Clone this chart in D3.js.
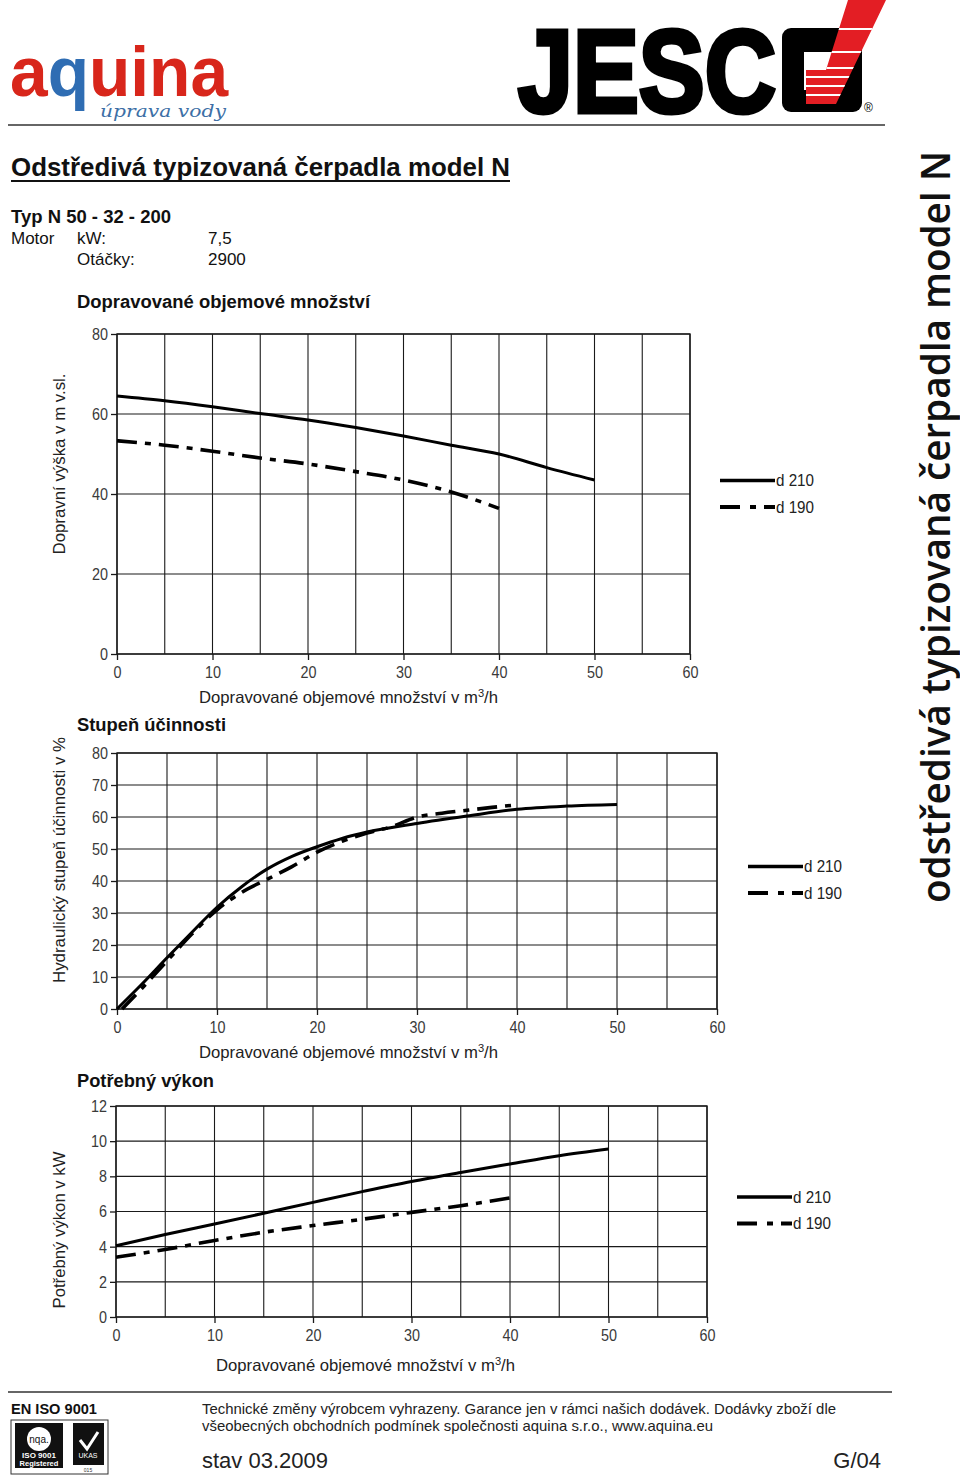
<!DOCTYPE html>
<html>
<head>
<meta charset="utf-8">
<script src="https://cdn.jsdelivr.net/npm/d3@7"></script>
<style>
  body { margin: 0; background: #fff; }
  svg { display: block; }
  .tick text { font-family: 'Liberation Sans Narrow', 'Liberation Sans', Arial, sans-serif; fill: #3a3a3a; }
</style>
</head>
<body>
<svg id="page"></svg>
<script>
// flow values (m3/h)
const flowD210 = [0, 5, 10, 15, 20, 25, 30, 35, 40, 45, 50];
const flowD190 = [0, 5, 10, 15, 20, 25, 30, 35, 40];

// head (m)
const headD210 = [64.5, 63.3, 61.8, 60.1, 58.5, 56.6, 54.5, 52.2, 50.0, 46.6, 43.5];
const headD190 = [53.3, 52.2, 50.7, 49.0, 47.5, 45.6, 43.5, 40.5, 36.4];

// efficiency (%)
const effFlowD210 = [0, 2.5, 5, 7.5, 10, 12.5, 15, 17.5, 20, 22.5, 25, 30, 35, 40, 45, 50];
const effD210 = [0, 7.8, 16, 24, 31.8, 38.3, 43.7, 47.7, 50.7, 53.3, 55.3, 58, 60.3, 62.4, 63.4, 63.9];
const effFlowD190 = [0.5, 2.5, 5, 7.5, 10, 12.5, 15, 17.5, 20, 22.5, 25, 27.5, 30, 32.5, 35, 37.5, 40];
const effD190 = [0, 6.5, 15, 23.5, 31, 36.5, 40.5, 44.5, 49, 52.4, 55, 57, 60, 61.2, 62.1, 63, 63.8];

// power (kW)
const powerD210 = [4.05, 4.69, 5.29, 5.9, 6.52, 7.13, 7.71, 8.22, 8.7, 9.17, 9.55];
const powerD190 = [3.4, 3.84, 4.35, 4.82, 5.2, 5.56, 5.95, 6.33, 6.77];

const seriesNames = ['d 210', 'd 190'];
const xTicks = [0, 10, 20, 30, 40, 50, 60];
const xGrid = d3.range(0, 61, 5);

const FONT = "'Liberation Sans', Arial, sans-serif";
const NARROW = "'Liberation Sans Narrow', 'Liberation Sans', Arial, sans-serif";
const DASH = '20,8,6,8';

const svg = d3.select('#page').attr('width', 960).attr('height', 1476);

const txt = (x, y, s, o = {}) => {
  const t = svg.append('text')
    .attr('x', x).attr('y', y)
    .attr('font-family', o.family || FONT)
    .attr('font-size', o.size || 16)
    .attr('font-weight', o.weight || 'normal')
    .attr('fill', o.fill || '#111')
    .text(s);
  if (o.len) t.attr('textLength', o.len).attr('lengthAdjust', 'spacingAndGlyphs');
  if (o.anchor) t.attr('text-anchor', o.anchor);
  return t;
};

// ---- header: logos ----
const logo = svg.append('text')
  .attr('x', 10).attr('y', 96)
  .attr('font-family', FONT).attr('font-weight', 'bold').attr('font-size', 71)
  .attr('textLength', 218).attr('lengthAdjust', 'spacingAndGlyphs');
logo.append('tspan').attr('fill', '#d8261b').text('a');
logo.append('tspan').attr('fill', '#2f6db3').text('q');
logo.append('tspan').attr('fill', '#d8261b').text('uina');
txt(100, 117, 'úprava vody', { family: "'DejaVu Serif', serif", size: 17, fill: '#3d6fa6', len: 126 })
  .attr('font-style', 'italic');

txt(518, 112, 'JESC', { weight: 'bold', size: 117, fill: '#000', len: 258 })
  .attr('stroke', '#000').attr('stroke-width', 5).attr('stroke-linejoin', 'miter');
svg.append('rect').attr('x', 782).attr('y', 28).attr('width', 80).attr('height', 84).attr('rx', 9).attr('fill', '#000');
svg.append('rect').attr('x', 804).attr('y', 52).attr('width', 36).attr('height', 38).attr('fill', '#fff');
const redShape = 'M848,0 L886,0 L836,104 L806,104 L806,70 L826,70 Z';
svg.append('clipPath').attr('id', 'redclip').append('path').attr('d', redShape);
svg.append('path').attr('d', redShape).attr('fill', '#e31e24');
svg.append('g').attr('clip-path', 'url(#redclip)')
  .selectAll('line').data([29, 52, 68, 77, 86, 95]).join('line')
  .attr('x1', 790).attr('x2', 890).attr('y1', d => d).attr('y2', d => d)
  .attr('stroke', '#fff').attr('stroke-width', 2.2);
txt(864, 112, '®', { size: 12, fill: '#000' });

svg.append('line').attr('x1', 8).attr('x2', 885).attr('y1', 125).attr('y2', 125)
  .attr('stroke', '#333').attr('stroke-width', 1.5);

// ---- title block ----
txt(11, 176, 'Odstředivá typizovaná čerpadla model N', { size: 26, weight: 'bold', len: 499 });
svg.append('line').attr('x1', 11).attr('x2', 510).attr('y1', 181).attr('y2', 181)
  .attr('stroke', '#111').attr('stroke-width', 2);
txt(11, 223, 'Typ N 50 - 32 - 200', { size: 18, weight: 'bold', len: 160 });
txt(11, 244, 'Motor', { size: 17 });
txt(77, 244, 'kW:', { size: 17 });
txt(208, 244, '7,5', { size: 17 });
txt(77, 265, 'Otáčky:', { size: 17 });
txt(208, 265, '2900', { size: 17 });

// right vertical title
svg.append('text')
  .attr('transform', 'translate(950,903) rotate(-90)')
  .attr('font-family', "'Open Sans', 'Noto Sans', sans-serif")
  .attr('font-weight', 600).attr('font-size', 40)
  .attr('textLength', 752).attr('lengthAdjust', 'spacingAndGlyphs')
  .attr('fill', '#111')
  .text('odstředivá typizovaná čerpadla model N');

// ---- charts ----
const drawChart = (c) => {
  const x = d3.scaleLinear().domain([0, 60]).range(c.xRange);
  const y = d3.scaleLinear().domain([0, c.yMax]).range(c.yRange);
  const g = svg.append('g');

  // grid
  g.append('g').selectAll('line').data(xGrid).join('line')
    .attr('x1', d => x(d)).attr('x2', d => x(d))
    .attr('y1', c.yRange[0]).attr('y2', c.yRange[1])
    .attr('stroke', '#1a1a1a').attr('stroke-width', 1.1);
  g.append('g').selectAll('line').data(c.yTicks).join('line')
    .attr('x1', c.xRange[0]).attr('x2', c.xRange[1])
    .attr('y1', d => y(d)).attr('y2', d => y(d))
    .attr('stroke', '#1a1a1a').attr('stroke-width', 1.1);
  g.append('rect')
    .attr('x', c.xRange[0]).attr('y', c.yRange[1])
    .attr('width', c.xRange[1] - c.xRange[0]).attr('height', c.yRange[0] - c.yRange[1])
    .attr('fill', 'none').attr('stroke', '#1a1a1a').attr('stroke-width', 1.4);

  // axes
  const ax = g.append('g')
    .attr('transform', `translate(0, ${c.yRange[0]})`)
    .call(d3.axisBottom(x).tickValues(xTicks).tickSize(6).tickPadding(6));
  const ay = g.append('g')
    .attr('transform', `translate(${c.xRange[0]}, 0)`)
    .call(d3.axisLeft(y).tickValues(c.yTicks).tickSize(6).tickPadding(3));
  [ax, ay].forEach(a => {
    a.select('.domain').remove();
    a.selectAll('.tick line').attr('stroke', '#1a1a1a').attr('stroke-width', 1.3);
    a.selectAll('.tick text').attr('font-size', 17)
      .attr('textLength', d => String(d).length * 8)
      .attr('lengthAdjust', 'spacingAndGlyphs');
  });

  // curves
  const line = d3.line().curve(d3.curveMonotoneX).x(d => x(d[0])).y(d => y(d[1]));
  g.append('path').datum(d3.zip(c.xa, c.ya))
    .attr('d', line).attr('fill', 'none')
    .attr('stroke', '#000').attr('stroke-width', 3);
  g.append('path').datum(d3.zip(c.xb, c.yb))
    .attr('d', line).attr('fill', 'none')
    .attr('stroke', '#000').attr('stroke-width', 3.6)
    .attr('stroke-dasharray', DASH);

  // legend
  seriesNames.forEach((n, i) => {
    const ly = c.legend[1] + i * 26.5;
    g.append('line')
      .attr('x1', c.legend[0]).attr('x2', c.legend[0] + 55)
      .attr('y1', ly).attr('y2', ly)
      .attr('stroke', '#000').attr('stroke-width', i ? 4 : 3.4)
      .attr('stroke-dasharray', i ? '20,10,6,8,20' : null);
    g.append('text')
      .attr('x', c.legend[0] + 56).attr('y', ly + 5.5)
      .attr('font-family', NARROW).attr('font-size', 16).attr('fill', '#222')
      .attr('textLength', 38).attr('lengthAdjust', 'spacingAndGlyphs')
      .text(n);
  });

  // titles
  txt(77, c.titleY, c.title, { size: 18, weight: 'bold', len: c.titleLen });
  txt(c.xTitle[0], c.xTitle[1], '', { family: NARROW, size: 16.5, fill: '#222', len: 299 })
    .call(t => {
      t.append('tspan').text('Dopravované objemové množství v m');
      t.append('tspan').attr('dy', -6).attr('font-size', 11).text('3');
      t.append('tspan').attr('dy', 6).text('/h');
    });
  svg.append('text')
    .attr('transform', `translate(65, ${c.yTitle[0]}) rotate(-90)`)
    .attr('text-anchor', 'middle')
    .attr('font-family', FONT).attr('font-size', 16).attr('fill', '#222')
    .attr('textLength', c.yTitle[2]).attr('lengthAdjust', 'spacingAndGlyphs')
    .text(c.yTitle[1]);
};

drawChart({
  xRange: [117, 690], yRange: [654, 334], yMax: 80, yTicks: [0, 20, 40, 60, 80],
  xa: flowD210, ya: headD210, xb: flowD190, yb: headD190,
  legend: [720, 480.5],
  title: 'Dopravované objemové množství', titleY: 308, titleLen: 293,
  xTitle: [199, 703], yTitle: [464, 'Dopravní výška v m v.sl.', 181]
});

drawChart({
  xRange: [117, 717], yRange: [1009, 753], yMax: 80, yTicks: d3.range(0, 81, 10),
  xa: effFlowD210, ya: effD210, xb: effFlowD190, yb: effD190,
  legend: [748, 866.5],
  title: 'Stupeň účinnosti', titleY: 731, titleLen: 149,
  xTitle: [199, 1058], yTitle: [860, 'Hydraulický stupeň účinnosti v %', 246]
});

drawChart({
  xRange: [116, 707], yRange: [1317, 1106], yMax: 12, yTicks: d3.range(0, 13, 2),
  xa: flowD210, ya: powerD210, xb: flowD190, yb: powerD190,
  legend: [737, 1197],
  title: 'Potřebný výkon', titleY: 1087, titleLen: 137,
  xTitle: [216, 1371], yTitle: [1230, 'Potřebný výkon v kW', 157]
});

// ---- footer ----
svg.append('line').attr('x1', 8).attr('x2', 892).attr('y1', 1392).attr('y2', 1392)
  .attr('stroke', '#333').attr('stroke-width', 1.5);
txt(11, 1414, 'EN ISO 9001', { size: 15, weight: 'bold', len: 86 });
svg.append('rect').attr('x', 11).attr('y', 1420).attr('width', 97).attr('height', 54)
  .attr('fill', 'none').attr('stroke', '#333').attr('stroke-width', 1);
svg.append('rect').attr('x', 15).attr('y', 1423).attr('width', 48).attr('height', 45).attr('fill', '#111');
svg.append('circle').attr('cx', 39).attr('cy', 1439).attr('r', 12).attr('fill', '#fff');
txt(39, 1443, 'nqa.', { size: 10, anchor: 'middle', fill: '#111' });
txt(39, 1458, 'ISO 9001', { size: 8, weight: 'bold', anchor: 'middle', fill: '#fff' });
txt(39, 1466, 'Registered', { size: 7.5, weight: 'bold', anchor: 'middle', fill: '#fff' });
svg.append('rect').attr('x', 73).attr('y', 1423).attr('width', 31).attr('height', 42).attr('fill', '#111');
svg.append('path').attr('d', 'M80,1440 L87,1449 L98,1432').attr('fill', 'none')
  .attr('stroke', '#fff').attr('stroke-width', 3);
txt(88, 1458, 'UKAS', { size: 7, anchor: 'middle', fill: '#fff' });
txt(88, 1472, '015', { size: 5, anchor: 'middle', fill: '#333' });

txt(202, 1414, 'Technické změny výrobcem vyhrazeny. Garance jen v rámci našich dodávek. Dodávky zboží dle',
  { family: NARROW, size: 15, fill: '#222', len: 634 });
txt(202, 1431, 'všeobecných obchodních podmínek společnosti aquina s.r.o., www.aquina.eu',
  { family: NARROW, size: 15, fill: '#222', len: 511 });
txt(202, 1468, 'stav 03.2009', { family: NARROW, size: 22, fill: '#222', len: 126 });
txt(881, 1468, 'G/04', { family: NARROW, size: 22, fill: '#222', anchor: 'end' });
</script>
</body>
</html>
